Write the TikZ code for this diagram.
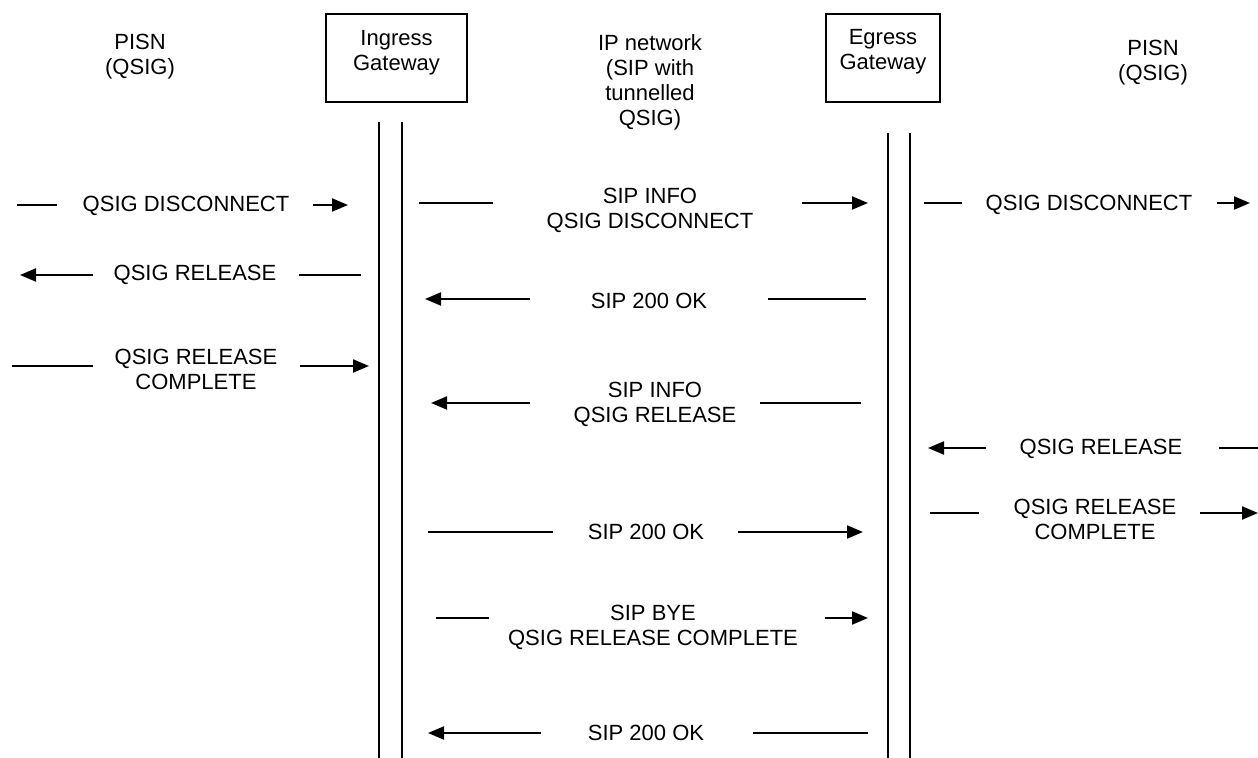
\documentclass[tikz,border=0pt]{standalone}
\usepackage{fontspec}
\setmainfont{Liberation Sans}
\usetikzlibrary{arrows.meta}

\begin{document}
\begin{tikzpicture}[x=0.5pt,y=-0.5pt,
	lbl/.style={align=center,inner sep=0pt,font=\fontsize{11}{12.5}\selectfont},
	gw/.style={draw,line width=0.75pt,minimum width=#1,minimum height=44pt,inner sep=0pt},
	seg/.style={line width=1pt},
	tip/.style={line width=1pt,-{Triangle[length=8pt,width=6.5pt]}},
	life/.style={line width=0.75pt}]
			%%%%% START %%%%%
			\useasboundingbox (0,0) rectangle (1258,758);
			
			% headers
			\node[lbl] (pisnL) at (140,57) {PISN\\(QSIG)};
			\node[gw=70.5pt] (ingress) at (396.5,58) {};
			\node[lbl] (ingressT) at (396.5,52.5) {Ingress\\Gateway};
			\node[lbl] (ipnet) at (650,82.5) {IP network\\(SIP with\\tunnelled\\QSIG)};
			\node[gw=57pt] (egress) at (883,58) {};
			\node[lbl] (egressT) at (883,52) {Egress\\Gateway};
			\node[lbl] (pisnR) at (1153,63) {PISN\\(QSIG)};
			
			% lifelines
			\draw[life] (379,122) -- (379,758);
			\draw[life] (402,122) -- (402,758);
			\draw[life] (888,133) -- (888,758);
			\draw[life] (910,133) -- (910,758);
			
			% disconnect
			\node[lbl] (m1) at (186,206) {QSIG DISCONNECT};
			\draw[seg] (17,205) -- (57,205);
			\draw[tip] (313,205) -- (348,205);
			
			\node[lbl] (m2) at (650,210) {SIP INFO\\QSIG DISCONNECT};
			\draw[seg] (419,203) -- (493,203);
			\draw[tip] (802,203) -- (868,203);
			
			\node[lbl] (m3) at (1089,205) {QSIG DISCONNECT};
			\draw[seg] (924,203) -- (962,203);
			\draw[tip] (1217,203) -- (1250,203);
			
			% release
			\node[lbl] (m4) at (195,275) {QSIG RELEASE};
			\draw[tip] (93,275) -- (20,275);
			\draw[seg] (299,275) -- (361,275);
			
			\node[lbl] (m5) at (649,301) {SIP 200 OK};
			\draw[tip] (530,299) -- (425,299);
			\draw[seg] (768,299) -- (866,299);
			
			\node[lbl] (m6) at (196,369) {QSIG RELEASE\\COMPLETE};
			\draw[seg] (12,366) -- (93,366);
			\draw[tip] (300,366) -- (369,366);
			
			\node[lbl] (m7) at (655,404) {SIP INFO\\QSIG RELEASE};
			\draw[tip] (530,403) -- (431,403);
			\draw[seg] (760,403) -- (861,403);
			
			\node[lbl] (m8) at (1101,449) {QSIG RELEASE};
			\draw[tip] (986,448) -- (928,448);
			\draw[seg] (1219,448) -- (1258,448);
			
			\node[lbl] (m9) at (1095,519) {QSIG RELEASE\\COMPLETE};
			\draw[seg] (930,513) -- (979,513);
			\draw[tip] (1200,513) -- (1258,513);
			
			\node[lbl] (m10) at (646,532) {SIP 200 OK};
			\draw[seg] (428,532) -- (553,532);
			\draw[tip] (738,532) -- (863,532);
			
			% bye
			\node[lbl] (m11) at (653,627) {SIP BYE\\QSIG RELEASE COMPLETE};
			\draw[seg] (436,618) -- (489,618);
			\draw[tip] (825,618) -- (868,618);
			
			\node[lbl] (m12) at (646,733) {SIP 200 OK};
			\draw[tip] (541,733) -- (428,733);
			\draw[seg] (753,733) -- (868,733);
			%%%%% END %%%%%
\end{tikzpicture}
\end{document}
